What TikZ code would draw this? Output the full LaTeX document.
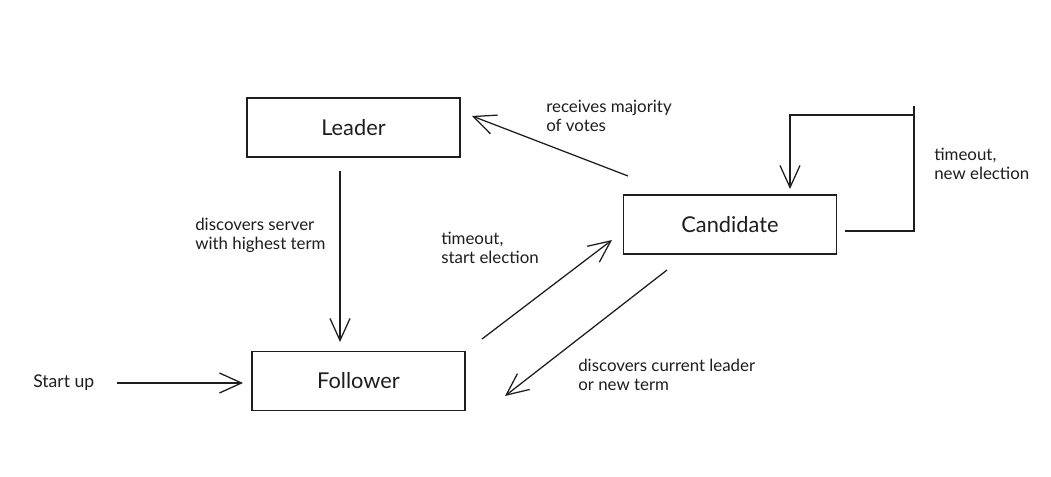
\documentclass[tikz,border=0pt]{standalone}
\usepackage{fontspec}
\setmainfont{Lato}
\usepackage{xcolor}
\usetikzlibrary{arrows.meta,positioning}
\definecolor{sink}{HTML}{1E1E1E}

\tikzset{
  state/.style={draw=sink,line width=1.1pt,minimum width=5.33cm,minimum height=1.47cm,
    font=\fontsize{15.5}{17}\selectfont,text=sink},
  note/.style={anchor=north west,inner sep=0pt,align=left,text=sink,
    font=\fontsize{12}{13.6}\selectfont},
  trans/.style={draw=sink,line width=0.9pt,-{Straight Barb[length=5.5mm,width=5mm]}}
}

\begin{document}
\begin{tikzpicture}[x=0.025cm,y=-0.025cm]
  \useasboundingbox (0,0) rectangle (1051,477);
  \fill[white] (0,0) rectangle (1051,477);

  % states
  \node[state] (leader) at (353.5,127.5) {Leader};
  \node[state] (cand) at (730,224.5) {Candidate};
  \node[state] (foll) at (358.5,381) {Follower};
  \node[anchor=west,inner sep=0pt,text=sink,font=\fontsize{12.5}{13.6}\selectfont] (start) at (33,383) {Start up};

  % connector ends
  \coordinate (ls) at (340,171);
  \coordinate (fn) at (340,342);
  \coordinate (su) at (117,383);
  \coordinate (fw) at (243,383);
  \coordinate (fo) at (482,339);
  \coordinate (ci) at (612,240);
  \coordinate (co) at (667,270);
  \coordinate (fi) at (505,396);
  \coordinate (cu) at (628,176);
  \coordinate (le) at (472,116);
  \coordinate (lo) at (845,231);
  \coordinate (lr) at (914,231);
  \coordinate (lt) at (914,115);
  \coordinate (ll) at (790,115);
  \coordinate (ln) at (790,189);

  \draw[trans] (ls) -- (fn);
  \draw[trans] (su) -- (fw);
  \draw[trans] (fo) -- (ci);
  \draw[trans] (co) -- (fi);
  \draw[trans] (cu) -- (le);
  \draw[trans] (lo) -- (lr) -- (lt) -- (ll) -- (ln);
  \draw[draw=sink,line width=0.9pt] (lt) -- ++(0,-9);

  % labels
  \node[note] (l1) at (546,100) {receives majority\\of votes};
  \node[note] (l2) at (934,148) {timeout,\\new election};
  \node[note] (l3) at (195,218) {discovers server\\with highest term};
  \node[note] (l4) at (441,232) {timeout,\\start election};
  \node[note] (l5) at (578,359) {discovers current leader\\or new term};
\end{tikzpicture}
\end{document}
